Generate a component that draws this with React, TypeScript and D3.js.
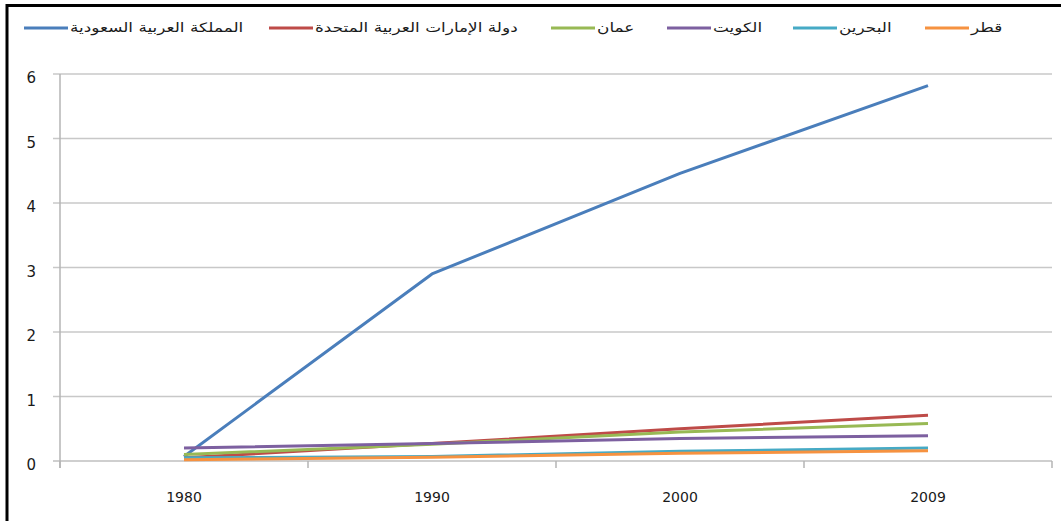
import React from "react";
import * as d3 from "d3";

const years = ["1980", "1990", "2000", "2009"];
const seriesNames = [
  "المملكة العربية السعودية",
  "دولة الإمارات العربية المتحدة",
  "عمان",
  "الكويت",
  "البحرين",
  "قطر",
];
const saudi = [0.07, 2.9, 4.46, 5.82];
const uae = [0.05, 0.27, 0.5, 0.71];
const oman = [0.1, 0.26, 0.45, 0.58];
const kuwait = [0.2, 0.27, 0.35, 0.39];
const bahrain = [0.05, 0.07, 0.15, 0.2];
const qatar = [0.02, 0.06, 0.12, 0.16];
const yTicks = [0, 1, 2, 3, 4, 5, 6];

const allSeries = [saudi, uae, oman, kuwait, bahrain, qatar];
const colors = ["#4A7EBB", "#BE4B48", "#98B954", "#7D60A0", "#46AAC5", "#F69240"];
const legendX = [24, 269, 551, 667, 793, 925];

export default function App() {
  const W = 1061, H = 521;
  const left = 60, right = 1052, top = 74, bottom = 461;
  const x = d3.scaleBand<string>().domain(years).range([left, right]);
  const y = d3.scaleLinear().domain([0, 6]).range([bottom, top]);
  const line = d3
    .line<number>()
    .x((_, i) => (x(years[i]) as number) + x.bandwidth() / 2)
    .y((d) => y(d));
  const font = "DejaVu Sans, sans-serif";
  const boundaries = d3.range(years.length + 1).map((i) => left + i * x.bandwidth());
  return (
    <svg width={W} height={H} style={{ position: "absolute", left: 0, top: 0, background: "#fff" }}>
      <rect x={0} y={0} width={W} height={H} fill="#fff" />
      {/* frame */}
      <line x1={6} y1={5.5} x2={W} y2={5.5} stroke="#000" strokeWidth={3} />
      <line x1={7} y1={4} x2={7} y2={H} stroke="#000" strokeWidth={3} />
      {/* gridlines */}
      {yTicks.map((t) => (
        <line key={t} x1={53} x2={right} y1={y(t)} y2={y(t)} stroke={t === 0 ? "#bfbfbf" : "#c8c8c8"} strokeWidth={1.5} />
      ))}
      {/* y axis */}
      <line x1={left} x2={left} y1={top} y2={bottom + 7} stroke="#b5b5b5" strokeWidth={1.5} />
      {boundaries.map((bx, i) => (
        <line key={i} x1={bx} x2={bx} y1={bottom} y2={bottom + 7} stroke="#b5b5b5" strokeWidth={1.5} />
      ))}
      {yTicks.map((t) => (
        <text key={t} x={36} y={y(t) + 9} textAnchor="end" fontFamily={font} fontSize={15} fill="#1a1a1a">
          {t}
        </text>
      ))}
      {years.map((yr) => (
        <text key={yr} x={(x(yr) as number) + x.bandwidth() / 2} y={502} textAnchor="middle" fontFamily={font} fontSize={14} fill="#1a1a1a">
          {yr}
        </text>
      ))}
      {/* lines */}
      {allSeries.map((s, i) => (
        <path key={i} d={line(s) || ""} fill="none" stroke={colors[i]} strokeWidth={3} strokeLinejoin="round" />
      ))}
      {/* legend */}
      {seriesNames.map((n, i) => (
        <g key={n}>
          <line x1={legendX[i]} x2={legendX[i] + 44} y1={28} y2={28} stroke={colors[i]} strokeWidth={3} />
          <text
            transform={`translate(${legendX[i] + 46},32) scale(1.3,1)`}
            textAnchor="start"
            fontFamily={font}
            fontSize={13}
            fill="#1a1a1a"
          >
            {n}
          </text>
        </g>
      ))}
    </svg>
  );
}
